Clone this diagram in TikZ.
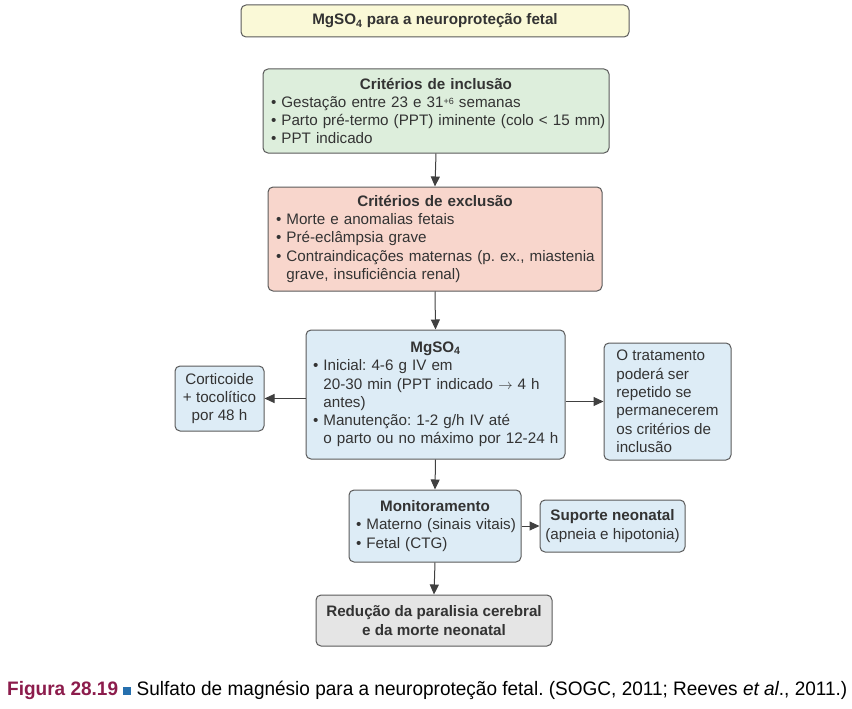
\documentclass[tikz,border=0pt]{standalone}
\usepackage{fontspec}
\setmainfont{Liberation Sans}
\newfontfamily\capfont[FakeStretch=0.975]{Liberation Sans}
\usetikzlibrary{arrows.meta}
\definecolor{bordc}{HTML}{5A5A5A}
\definecolor{txtc}{HTML}{333333}
\definecolor{arrc}{HTML}{404040}
\definecolor{ttlfill}{HTML}{FAF9D7}
\definecolor{grnfill}{HTML}{DDEEDC}
\definecolor{redfill}{HTML}{F8D6CC}
\definecolor{bluefill}{HTML}{DDECF6}
\definecolor{grayfill}{HTML}{E5E5E5}
\definecolor{figc}{HTML}{8C1C4C}
\definecolor{sqc}{HTML}{2670AE}
\newcommand\mybul{\textbullet\ }
\newcommand\myind{\phantom{\textbullet\ }}
\newcommand\lin[1]{\mbox{#1}}
\frenchspacing
\begin{document}
\begin{tikzpicture}[x=1pt,y=-1pt,
  box/.style={draw=bordc, line width=1pt, rounded corners=5pt, text=txtc,
    font=\fontsize{15.2}{18.3}\selectfont, inner xsep=8pt, inner ysep=3pt},
  arr/.style={draw=arrc, line width=1pt, -{Triangle[length=10pt,width=9pt]}}]
\useasboundingbox (0,0) rectangle (852,709);

\node[box, fill=ttlfill, minimum width=388pt, minimum height=32pt,
  font=\bfseries\fontsize{15.2}{18}\selectfont] (title) at (435,21)
  {MgSO\textsubscript{4} para a neuroproteção fetal};

\node[box, fill=grnfill, minimum width=346pt, minimum height=84pt,
  text width=330pt, align=left] (incl) at (436,111)
  {\makebox[\hsize][c]{\bfseries Critérios de inclusão}\\
   \lin{\mybul Gestação entre 23 e 31{\fontsize{9}{9}\selectfont\raisebox{3pt}{+6}} semanas}\\
   \lin{\mybul Parto pré-termo (PPT) iminente (colo < 15 mm)}\\
   \lin{\mybul PPT indicado}};

\node[box, fill=redfill, minimum width=334pt, minimum height=104pt,
  text width=318pt, align=left] (excl) at (435,239)
  {\makebox[\hsize][c]{\bfseries Critérios de exclusão}\\
   \lin{\mybul Morte e anomalias fetais}\\
   \lin{\mybul Pré-eclâmpsia grave}\\
   \lin{\mybul Contraindicações maternas (p. ex., miastenia}\\
   \lin{\myind grave, insuficiência renal)}};

\node[box, fill=bluefill, minimum width=259pt, minimum height=129pt,
  text width=245pt, inner xsep=7pt, align=left] (mg) at (435.5,394.5)
  {\makebox[\hsize][c]{\bfseries MgSO\textsubscript{4}}\\
   \lin{\mybul Inicial: 4-6 g IV em}\\
   \lin{\myind 20-30 min (PPT indicado $\rightarrow$ 4 h}\\
   \lin{\myind antes)}\\
   \lin{\mybul Manutenção: 1-2 g/h IV até}\\
   \lin{\myind o parto ou no máximo por 12-24 h}};

\node[box, fill=bluefill, minimum width=89pt, minimum height=65pt,
  inner xsep=2pt, align=center] (cort) at (219.5,398.5)
  {Corticoide\\+ tocolítico\\por 48 h};

\node[box, fill=bluefill, minimum width=127pt, minimum height=117pt,
  inner xsep=4pt, align=left] (trat) at (667.5,401.5)
  {O tratamento\\poderá ser\\repetido se\\permanecerem\\os critérios de\\inclusão};

\node[box, fill=bluefill, minimum width=172pt, minimum height=72pt,
  text width=158pt, inner xsep=7pt, align=left] (mon) at (435,526)
  {\makebox[\hsize][c]{\bfseries Monitoramento}\\
   \lin{\mybul Materno (sinais vitais)}\\
   \lin{\mybul Fetal (CTG)}};

\node[box, fill=bluefill, minimum width=145pt, minimum height=52pt,
  inner xsep=2pt, align=center] (sup) at (612.5,526)
  {{\bfseries Suporte neonatal}\\(apneia e hipotonia)};

\node[box, fill=grayfill, minimum width=236pt, minimum height=51pt,
  align=center, font=\bfseries\fontsize{15.2}{18.3}\selectfont] (red) at (434,620.5)
  {Redução da paralisia cerebral\\e da morte neonatal};

\draw[arr] (incl.south) -- (excl.north);
\draw[arr] (excl.south) -- (mg.north);
\draw[arr] (mg.west |- cort.east) -- (cort.east);
\draw[arr] (mg.east |- trat.west) -- (trat.west);
\draw[arr] (mg.south) -- (mon.north);
\draw[arr] (mon.east) -- (sup.west);
\draw[arr] (mon.south) -- (red.north);

\node[anchor=west, inner sep=0pt, font=\capfont\fontsize{19.5}{22}\selectfont, text=black] (cap) at (7,690)
  {\textcolor{figc}{\bfseries Figura 28.19} \textcolor{sqc}{\rule{8pt}{8pt}} Sulfato de magnésio para a neuroproteção fetal. (SOGC, 2011; Reeves \textit{et al}., 2011.)};
\end{tikzpicture}
\end{document}
